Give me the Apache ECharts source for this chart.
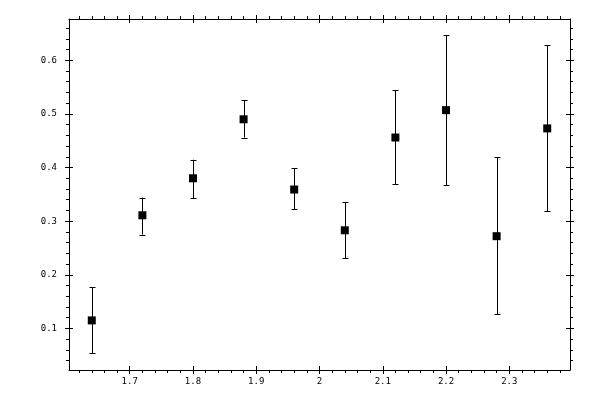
<!DOCTYPE html>
<html>
<head>
<meta charset="utf-8">
<script src="https://cdn.jsdelivr.net/npm/echarts@6/dist/echarts.min.js"></script>
<style>html,body{margin:0;padding:0;background:#fff}#c{width:600px;height:400px}</style>
</head>
<body>
<div id="c"></div>
<script>
// Data
const xValues = [1.64, 1.72, 1.80, 1.88, 1.96, 2.04, 2.12, 2.20, 2.28, 2.36];
const yValues = [0.115, 0.311, 0.380, 0.490, 0.359, 0.283, 0.456, 0.507, 0.272, 0.473];
const yLow    = [0.054, 0.275, 0.3425, 0.456, 0.322, 0.2306, 0.3687, 0.3668, 0.1267, 0.3183];
const yHigh   = [0.1765, 0.344, 0.4146, 0.5254, 0.3985, 0.335, 0.544, 0.6466, 0.4196, 0.628];
// Tick labels
const xTickLabels = [1.7, 1.8, 1.9, 2.0, 2.1, 2.2, 2.3];
const yTickLabels = [0.1, 0.2, 0.3, 0.4, 0.5, 0.6];

const xMin = 1.604, xMax = 2.396;
const yMin = 0.0225, yMax = 0.677;

function minorTicks(lo, hi, step) {
  const out = [];
  const start = Math.ceil(lo / step - 1e-9);
  for (let k = start; k * step <= hi + 1e-9; k++) {
    const v = Math.round(k * step * 1000) / 1000;
    if (Math.abs(Math.round(v * 10) - v * 10) > 1e-6) out.push(v);
  }
  return out;
}
const xMinor = minorTicks(xMin, xMax, 0.02);
const yMinor = minorTicks(yMin, yMax, 0.02);

const black = '#000';
const font = {fontFamily: 'DejaVu Sans Mono', fontSize: 9, color: black};

function fmt(v) { return String(Math.round(v * 1000) / 1000); }

function makeAxes(kind, min, max, majors, minors, posA, posB) {
  const axes = [];
  const base = {type: 'value', min: min, max: max, splitLine: {show: false}, z: 5};
  axes.push(Object.assign({}, base, {
    position: posA,
    axisLine: {show: true, onZero: false, lineStyle: {color: black, width: 1}},
    axisTick: {show: true, inside: false, length: 4, customValues: majors, lineStyle: {color: black, width: 1}},
    axisLabel: Object.assign({show: true, customValues: majors, formatter: fmt, margin: kind === 'x' ? 7 : 12}, font)
  }));
  axes.push(Object.assign({}, base, {
    position: posA,
    axisLine: {show: false, onZero: false},
    axisTick: {show: true, inside: false, length: 3, customValues: minors, lineStyle: {color: black, width: 1}},
    axisLabel: {show: false}
  }));
  axes.push(Object.assign({}, base, {
    position: posA,
    axisLine: {show: false, onZero: false},
    axisTick: {show: true, inside: true, length: 4, customValues: majors, lineStyle: {color: black, width: 1}},
    axisLabel: {show: false}
  }));
  axes.push(Object.assign({}, base, {
    position: posB,
    axisLine: {show: true, onZero: false, lineStyle: {color: black, width: 1}},
    axisTick: {show: true, inside: false, length: 4, customValues: majors, lineStyle: {color: black, width: 1}},
    axisLabel: {show: false}
  }));
  axes.push(Object.assign({}, base, {
    position: posB,
    axisLine: {show: false, onZero: false},
    axisTick: {show: true, inside: false, length: 3, customValues: minors, lineStyle: {color: black, width: 1}},
    axisLabel: {show: false}
  }));
  axes.push(Object.assign({}, base, {
    position: posB,
    axisLine: {show: false, onZero: false},
    axisTick: {show: true, inside: true, length: 4, customValues: majors, lineStyle: {color: black, width: 1}},
    axisLabel: {show: false}
  }));
  return axes;
}

const pointData = xValues.map((x, i) => [x, yValues[i]]);
const errData = xValues.map((x, i) => [x, yLow[i], yHigh[i]]);

const chart = echarts.init(document.getElementById('c'), null, {renderer: 'canvas'});
chart.setOption({
  animation: false,
  backgroundColor: '#fff',
  grid: {left: 69, right: 30, top: 19, bottom: 30, containLabel: false},
  xAxis: makeAxes('x', xMin, xMax, xTickLabels, xMinor, 'bottom', 'top'),
  yAxis: makeAxes('y', yMin, yMax, yTickLabels, yMinor, 'left', 'right'),
  series: [
    {
      type: 'custom',
      xAxisIndex: 0, yAxisIndex: 0,
      data: errData,
      renderItem: function (params, api) {
        const x = api.value(0);
        const lo = api.coord([x, api.value(1)]);
        const hi = api.coord([x, api.value(2)]);
        const cx = Math.round(lo[0]) + 0.5;
        const hw = 3;
        const style = {stroke: black, lineWidth: 1};
        return {
          type: 'group',
          children: [
            {type: 'line', shape: {x1: cx, y1: hi[1], x2: cx, y2: lo[1]}, style: style},
            {type: 'line', shape: {x1: cx - hw, y1: Math.round(hi[1]) + 0.5, x2: cx + hw, y2: Math.round(hi[1]) + 0.5}, style: style},
            {type: 'line', shape: {x1: cx - hw, y1: Math.round(lo[1]) + 0.5, x2: cx + hw, y2: Math.round(lo[1]) + 0.5}, style: style}
          ]
        };
      },
      z: 2
    },
    {
      type: 'scatter',
      xAxisIndex: 0, yAxisIndex: 0,
      data: pointData,
      symbol: 'rect',
      symbolSize: 8,
      itemStyle: {color: black, opacity: 1},
      z: 3
    }
  ]
});
</script>
</body>
</html>
